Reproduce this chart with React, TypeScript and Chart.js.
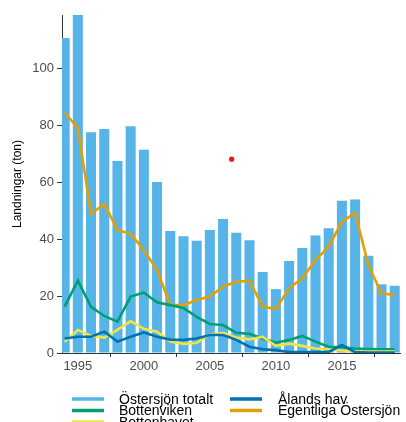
import React, { useEffect, useRef } from "react";
import { Chart, registerables } from "chart.js";

Chart.register(...registerables);

const years = [1994, 1995, 1996, 1997, 1998, 1999, 2000, 2001, 2002, 2003, 2004, 2005, 2006, 2007, 2008, 2009, 2010, 2011, 2012, 2013, 2014, 2015, 2016, 2017, 2018, 2019];
const ostersjonTotalt = [110.5, 120, 77.5, 78.6, 67.4, 79.6, 71.3, 60, 42.8, 41, 39.4, 43.2, 47, 42.2, 39.6, 28.4, 22.4, 32.3, 36.8, 41.2, 43.8, 53.4, 53.9, 34.1, 24.1, 23.6];
const bottenviken = [16.3, 25.4, 16.2, 13, 11, 19.8, 21.2, 17.8, 16.8, 15.8, 12.7, 10.2, 9.8, 7.1, 6.7, 5.1, 3.6, 4.6, 6, 4, 2.2, 2, 1.6, 1.4, 1.3, 1.3];
const bottenhavet = [3.9, 8.1, 6, 5.4, 8.1, 11.2, 8.5, 7.5, 4, 3.2, 3.6, 6.5, 7.1, 5.4, 4.8, 5.7, 2.5, 3.3, 2.5, 1.6, 1.3, 0.9, 0.5, 0.5, 0.5, 0.5];
const alandsHav = [5.1, 5.7, 5.7, 7.5, 4, 5.7, 7.2, 5.7, 4.7, 4.6, 5.1, 6.3, 6.3, 4.6, 2.2, 1.3, 1, 0.3, 0.3, 0.3, 0.4, 2.8, 0.3, 0.2, 0.2, 0.2];
const egentligaOstersjon = [84.4, 78.9, 48.8, 52.3, 43.2, 41.8, 36.1, 29.1, 16.8, 16.8, 18.6, 19.8, 23.3, 25, 25.4, 16.3, 15.4, 22.7, 26.2, 32.6, 37.3, 46.1, 49.2, 30.9, 20.9, 20.4];
const redPointX = [2006.65];
const redPointY = [68];

const xTicks = [1995, 2000, 2005, 2010, 2015];
const yTicks = [0, 20, 40, 60, 80, 100];
const yTitle = "Landningar (ton)";

const seriesNames = ["Östersjön totalt", "Bottenviken", "Bottenhavet", "Ålands hav", "Egentliga Östersjön"];
const seriesColors = ["#56B4E9", "#009E73", "#F0E442", "#0072B2", "#E69F00"];

const toXY = (vals: number[]) => vals.map((v, i) => ({ x: years[i], y: v }));

const legendPlugin = {
  id: "customLegend",
  afterDraw(chart: any) {
    const ctx = chart.ctx;
    const area = chart.chartArea;
    ctx.save();
    ctx.font = '14px "Liberation Sans", Arial, sans-serif';
    ctx.textBaseline = "middle";
    ctx.textAlign = "left";
    const colSym = [area.left + 10, area.left + 168];
    const colText = [area.left + 57, area.left + 216];
    const rowY = [area.bottom + 47, area.bottom + 58.5, area.bottom + 70];
    const layout = [
      [0, 0],
      [0, 1],
      [0, 2],
      [1, 0],
      [1, 1],
    ];
    seriesNames.forEach((name, i) => {
      const [c, r] = layout[i];
      ctx.strokeStyle = seriesColors[i];
      ctx.lineWidth = 3.5;
      ctx.lineCap = "butt";
      ctx.beginPath();
      ctx.moveTo(colSym[c], rowY[r] - 1);
      ctx.lineTo(colSym[c] + 32, rowY[r] - 1);
      ctx.stroke();
      ctx.fillStyle = "#000000";
      ctx.fillText(name, colText[c], rowY[r]);
    });
    ctx.restore();
  },
};

export default function App() {
  const ref = useRef<HTMLCanvasElement>(null);

  useEffect(() => {
    if (!ref.current) return;
    const lineDs = (idx: number, vals: number[], order: number) => ({
      type: "line" as const,
      label: seriesNames[idx],
      data: toXY(vals),
      borderColor: seriesColors[idx],
      backgroundColor: seriesColors[idx],
      borderWidth: 2.6,
      pointRadius: 0,
      tension: 0,
      order,
    });
    const chart = new Chart(ref.current, {
      type: "bar",
      data: {
        datasets: [
          {
            type: "bar" as const,
            label: seriesNames[0],
            data: toXY(ostersjonTotalt),
            backgroundColor: seriesColors[0],
            borderWidth: 0,
            barPercentage: 0.76,
            categoryPercentage: 1,
            order: 10,
          } as any,
          lineDs(4, egentligaOstersjon, 5),
          lineDs(1, bottenviken, 4),
          lineDs(2, bottenhavet, 3),
          lineDs(3, alandsHav, 2),
          {
            type: "line" as const,
            label: "",
            data: redPointX.map((x, i) => ({ x, y: redPointY[i] })),
            showLine: false,
            pointRadius: 2.6,
            pointBackgroundColor: "#E41A1C",
            pointBorderWidth: 0,
            order: 0,
          },
        ],
      },
      options: {
        animation: false,
        responsive: true,
        maintainAspectRatio: false,
        layout: { padding: { top: 15, right: 6, left: 0, bottom: 0 } },
        plugins: {
          legend: { display: false },
          tooltip: { enabled: false },
        },
        scales: {
          x: {
            type: "linear",
            min: 1993.8,
            max: 2019.4,
            offset: false,
            afterBuildTicks: (scale: any) => {
              scale.ticks = xTicks.map((v) => ({ value: v }));
            },
            afterFit: (scale: any) => {
              scale.height = 69;
            },
            ticks: {
              color: "#4D4D4D",
              font: { family: '"Liberation Sans", Arial, sans-serif', size: 13 },
              padding: 2,
              maxRotation: 0,
              callback: (v: any) => String(v),
            },
            grid: { display: true, drawOnChartArea: false, drawTicks: true, tickLength: 4, color: "#333333" },
            border: { display: true, color: "#333333", width: 1 },
          },
          y: {
            type: "linear",
            min: 0,
            max: 118.6,
            afterBuildTicks: (scale: any) => {
              scale.ticks = yTicks.map((v) => ({ value: v }));
            },
            afterFit: (scale: any) => {
              scale.width = 62;
            },
            ticks: {
              color: "#4D4D4D",
              font: { family: '"Liberation Sans", Arial, sans-serif', size: 13 },
              padding: 3,
            },
            grid: { display: true, drawOnChartArea: false, drawTicks: true, tickLength: 5, color: "#333333" },
            border: { display: true, color: "#333333", width: 1 },
            title: {
              display: true,
              text: yTitle,
              color: "#000000",
              font: { family: '"Liberation Sans", Arial, sans-serif', size: 12 },
              padding: { top: 10, bottom: 0 },
            },
          },
        },
      },
      plugins: [legendPlugin],
    } as any);
    return () => chart.destroy();
  }, []);

  return (
    <div style={{ position: "absolute", left: 0, top: 0, width: 406, height: 422, background: "#ffffff" }}>
      <canvas ref={ref} />
    </div>
  );
}
